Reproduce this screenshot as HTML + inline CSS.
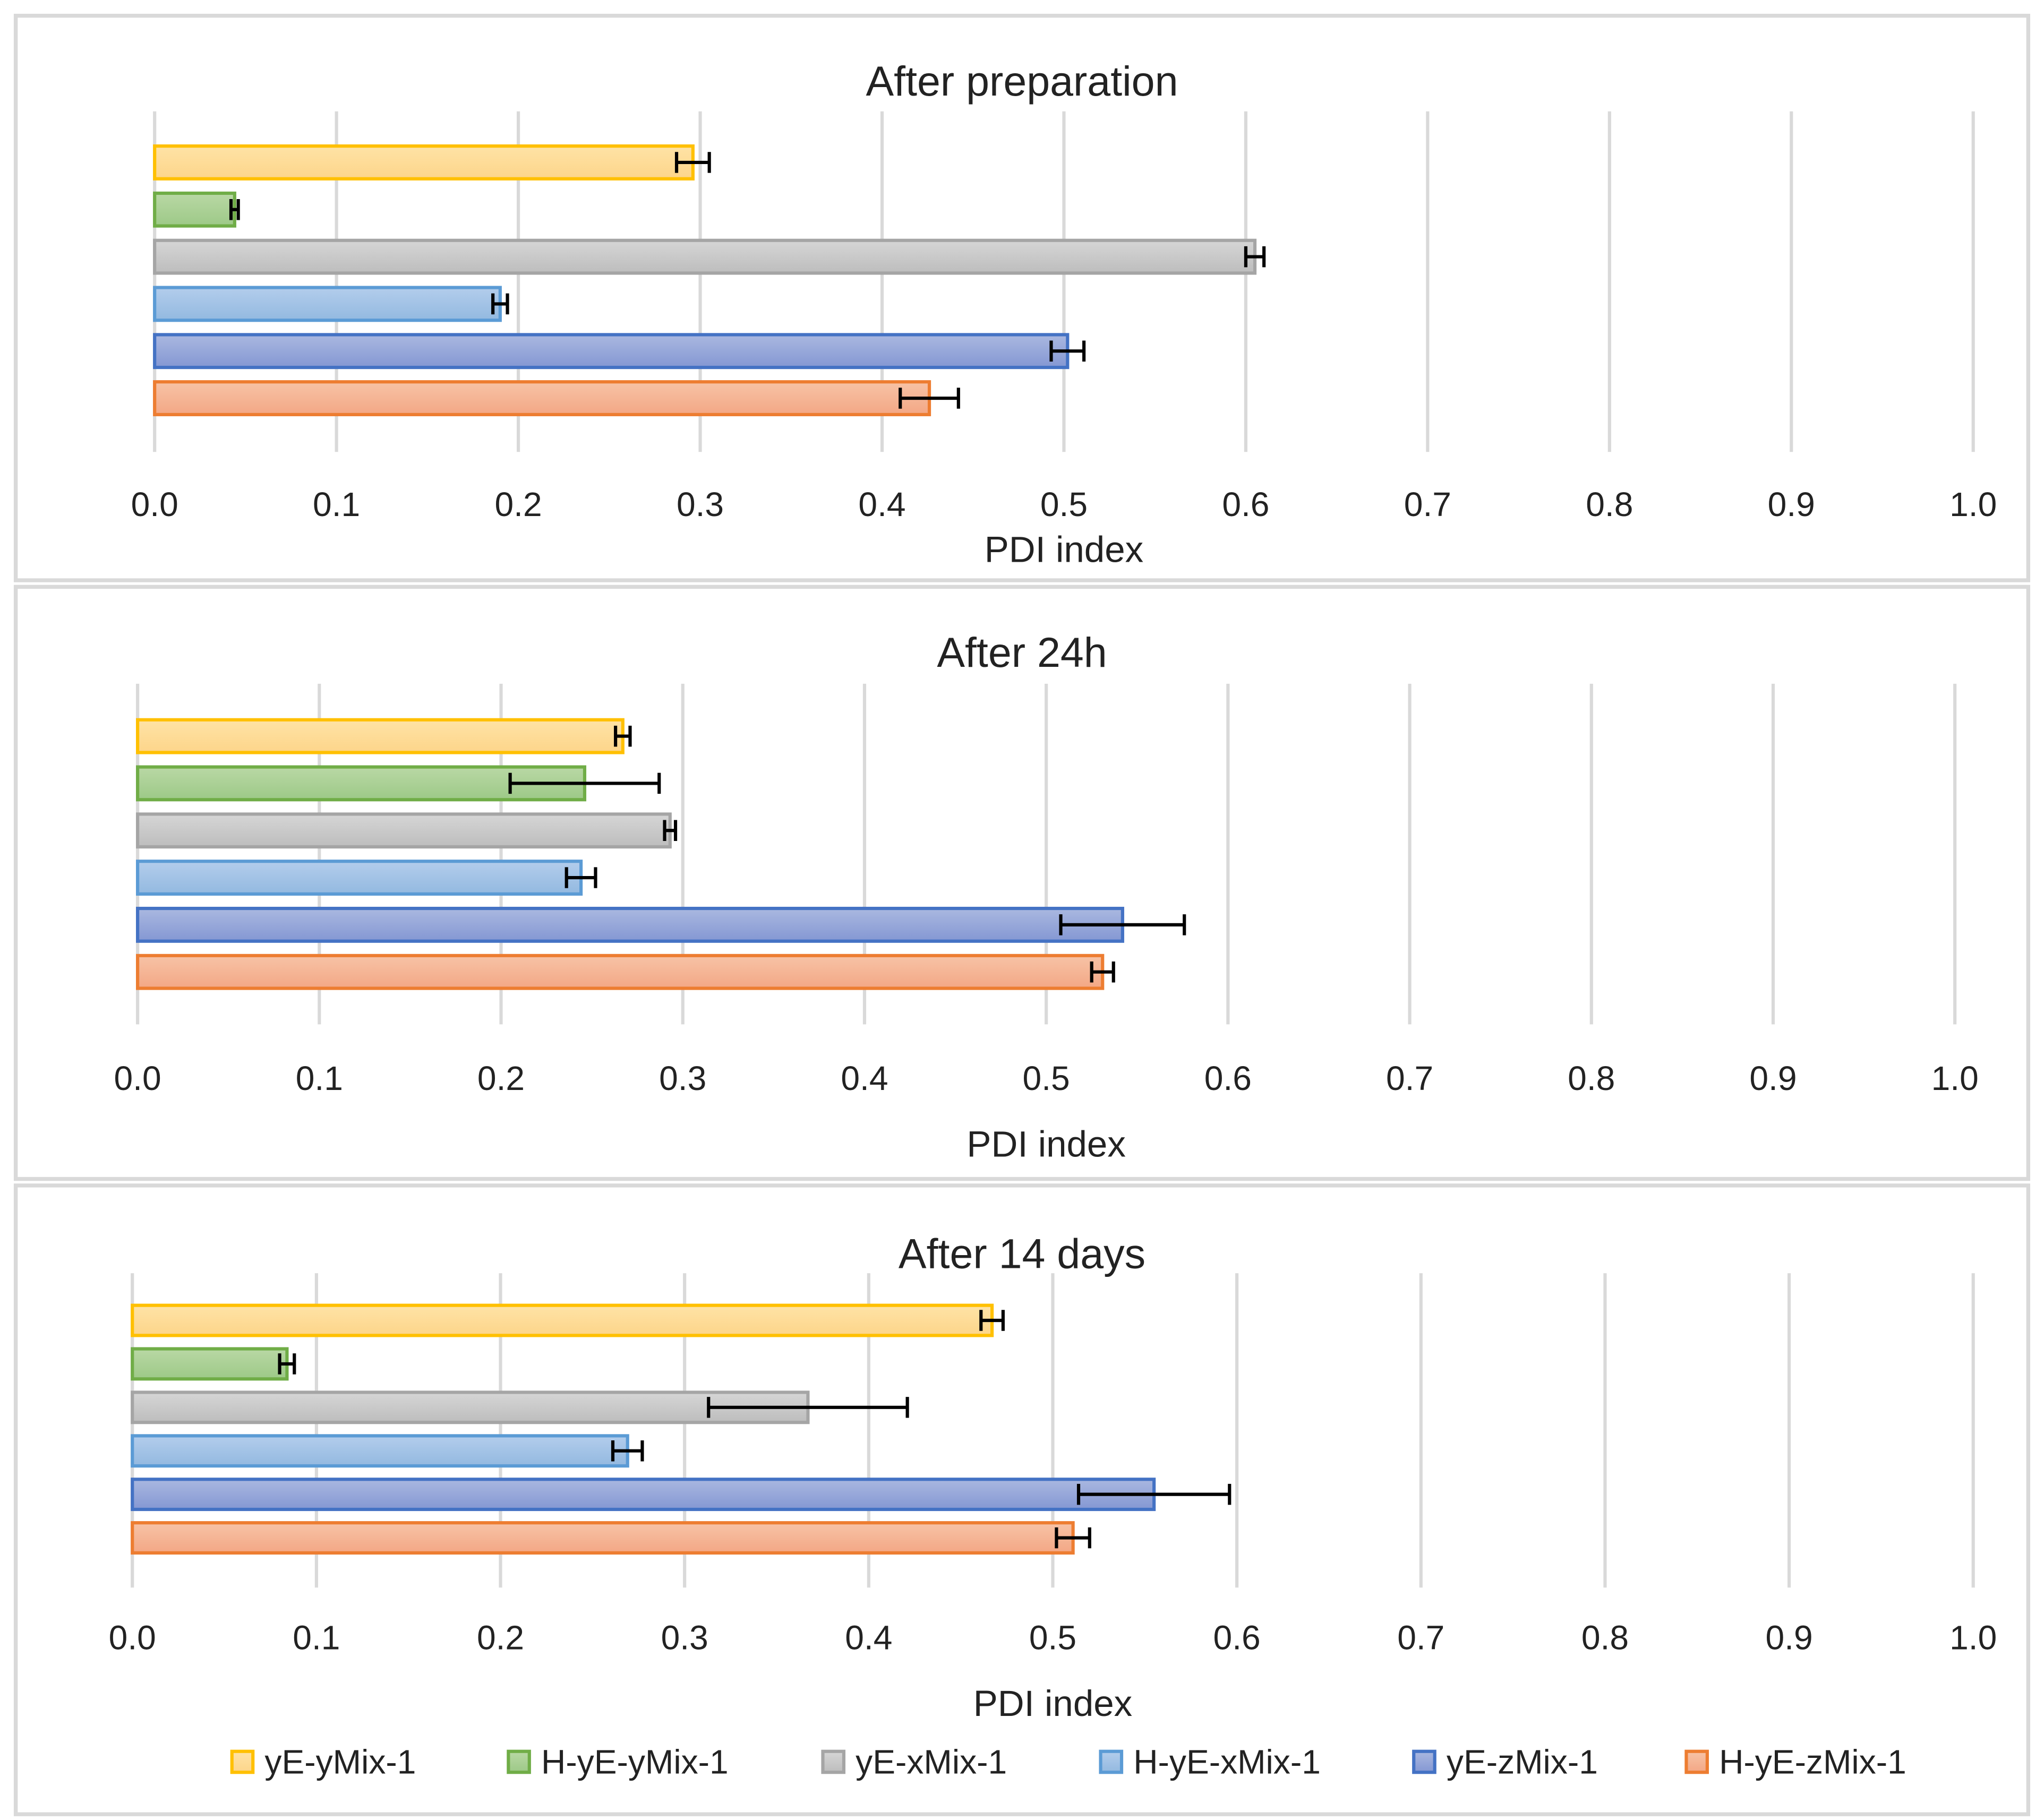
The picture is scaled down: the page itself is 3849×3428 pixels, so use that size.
<!DOCTYPE html>
<html><head><meta charset="utf-8"><style>
html,body{margin:0;padding:0;background:#fff}
svg{display:block}
text{font-family:"Liberation Sans",sans-serif;fill:#222}
</style></head><body>
<svg id="chart" width="3849" height="3428" viewBox="0 0 1560 1389.4" xmlns="http://www.w3.org/2000/svg">
<defs></defs>
</svg>
<script>
const seriesNames=["yE-yMix-1","H-yE-yMix-1","yE-xMix-1","H-yE-xMix-1","yE-zMix-1","H-yE-zMix-1"];
const panelTitles=["After  preparation","After  24h","After  14 days"];
const prepValues=[0.296,0.044,0.605,0.190,0.502,0.426];
const prepErrors=[0.009,0.002,0.005,0.004,0.009,0.016];
const h24Values=[0.267,0.246,0.293,0.244,0.542,0.531];
const h24Errors=[0.004,0.041,0.003,0.008,0.034,0.006];
const d14Values=[0.467,0.084,0.367,0.269,0.555,0.511];
const d14Errors=[0.006,0.004,0.054,0.008,0.041,0.009];
const tickLabels=["0.0","0.1","0.2","0.3","0.4","0.5","0.6","0.7","0.8","0.9","1.0"];
const tickValues=[0,0.1,0.2,0.3,0.4,0.5,0.6,0.7,0.8,0.9,1.0];

const fills=[["#FEE3A6","#FDD58A"],["#B9D8A5","#9DC987"],["#D6D6D6","#BDBDBD"],["#B3CDEC","#93B9E0"],["#AAB8E0","#8497D3"],["#F7C3A6","#F3A785"]];
const strokes=["#FFC000","#70AD47","#A5A5A5","#5B9BD5","#4472C4","#ED7D31"];
const NS="http://www.w3.org/2000/svg";
const svg=document.getElementById('chart');
const defs=svg.querySelector('defs');
fills.forEach((f,i)=>{
  const g=document.createElementNS(NS,'linearGradient');
  g.setAttribute('id','g'+i);g.setAttribute('x1','0');g.setAttribute('y1','0');g.setAttribute('x2','0');g.setAttribute('y2','1');
  g.innerHTML='<stop offset="0" stop-color="'+f[0]+'"/><stop offset="1" stop-color="'+f[1]+'"/>';
  defs.appendChild(g);
});
function mk(tag,attrs,parent){const e=document.createElementNS(NS,tag);for(const k in attrs)e.setAttribute(k,attrs[k]);(parent||svg).appendChild(e);return e;}

const panels=[
 {box:[12,12,1548,443],titleY:73,x0:118,x1:1506,gy0:85,gy1:345,bar0:124,step:36,bh:25,tickY:394,axY:429,vals:prepValues,errs:prepErrors},
 {box:[12,448,1548,900],titleY:509,x0:105,x1:1492,gy0:522,gy1:782,bar0:562,step:36,bh:25,tickY:832,axY:883,vals:h24Values,errs:h24Errors},
 {box:[12,905,1548,1385],titleY:968,x0:101,x1:1506,gy0:972,gy1:1212,bar0:1008,step:33.2,bh:23,tickY:1259,axY:1310,vals:d14Values,errs:d14Errors}
];
panels.forEach((p,pi)=>{
  const g=mk('g',{});
  
  
  const r=mk('rect',{x:p.box[0],y:p.box[1],width:p.box[2]-p.box[0],height:p.box[3]-p.box[1],fill:'#fff',stroke:'#d9d9d9','stroke-width':3},g);
  
  
  const xs=v=>p.x0+(p.x1-p.x0)*v;
  const t=mk('text',{x:780,y:p.titleY,'text-anchor':'middle','font-size':32},g);t.textContent=panelTitles[pi];
  
  
  tickValues.forEach((tv,i)=>{
    const l=mk('line',{x1:xs(tv),x2:xs(tv),y1:p.gy0,y2:p.gy1,stroke:'#d9d9d9','stroke-width':2.5},g);
    
    
    const tt=mk('text',{x:xs(tv),y:p.tickY,'text-anchor':'middle','font-size':26},g);tt.textContent=tickLabels[i];
    
    
  });
  p.vals.forEach((v,i)=>{
    const cy=p.bar0+i*p.step;
    const b=mk('rect',{x:xs(0),y:cy-p.bh/2,width:xs(v)-xs(0),height:p.bh,fill:'url(#g'+i+')',stroke:strokes[i],'stroke-width':2.5},g);
    
    
    const e=p.errs[i],a=xs(v-e),c=xs(v+e);
    const eg=mk('g',{stroke:'#000','stroke-width':2.5},g);
    
    
    mk('line',{x1:a,x2:c,y1:cy,y2:cy},eg);
    mk('line',{x1:a,x2:a,y1:cy-8,y2:cy+8},eg);
    mk('line',{x1:c,x2:c,y1:cy-8,y2:cy+8},eg);
  });
  const ax=mk('text',{x:(p.x0+p.x1)/2,y:p.axY,'text-anchor':'middle','font-size':28},g);ax.textContent='PDI index';
  
  
});
const legX=[177,388,628,840,1079,1287];
seriesNames.forEach((n,i)=>{
  const g=mk('g',{});
  
  
  mk('rect',{x:legX[i],y:1337,width:16,height:16,fill:'url(#g'+i+')',stroke:strokes[i],'stroke-width':2.5},g);
  const t=mk('text',{x:legX[i]+25,y:1354,'font-size':26},g);t.textContent=n;
});
</script>
</body></html>
